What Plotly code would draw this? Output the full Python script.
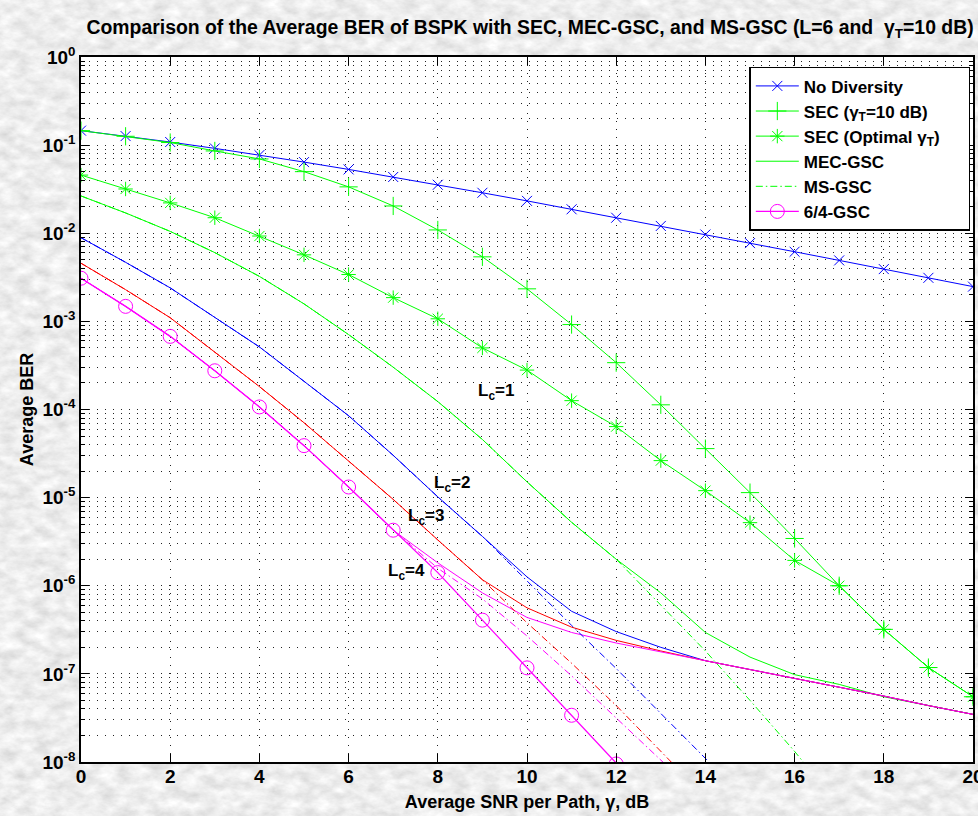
import base64
import plotly.graph_objects as go

# ---------------- data ----------------
snr_db = list(range(21))

ber_no_diversity = [0.146, 0.1267, 0.1085, 0.0919, 0.0771, 0.0642, 0.0530, 0.0435, 0.0355, 0.0288,
                    0.0233, 0.0187, 0.0150, 0.0121, 0.00967, 0.00773, 0.00617, 0.00492, 0.00392,
                    0.00312, 0.00248]

ber_sec_10db = [0.146, 0.126, 0.107, 0.0859, 0.0697, 0.050, 0.0336, 0.0204, 0.0109, 0.0054,
                0.00234, 0.00092, 3.4e-4, 1.13e-4, 3.6e-5, 1.14e-5, 3.44e-6, 1.0e-6, 3.2e-7,
                1.18e-7, 5.5e-8]

ber_sec_opt = [0.0457, 0.0318, 0.0221, 0.0150, 0.0093, 0.00569, 0.0034, 0.00186, 0.00107, 0.00050,
               0.00028, 1.26e-4, 6.4e-5, 2.63e-5, 1.2e-5, 5.2e-6, 1.94e-6, 1.0e-6, 3.2e-7,
               1.18e-7, 5.5e-8]

# MEC-GSC, Lc = 1..4 (solid)
ber_mec_lc1 = [0.0265, 0.0170, 0.0105, 0.00603, 0.00324, 0.00158, 7.08e-4, 3.02e-4, 1.23e-4, 4.57e-5,
               1.51e-5, 5.25e-6, 2.0e-6, 8.3e-7, 2.95e-7, 1.55e-7, 9.8e-8, 7.6e-8, 5.5e-8,
               4.37e-8, 3.47e-8]
ber_mec_lc2 = [8.9e-3, 4.68e-3, 2.40e-3, 1.12e-3, 5.13e-4, 2.09e-4, 8.5e-5, 3.02e-5, 1.02e-5, 3.63e-6,
               1.26e-6, 5.13e-7, 3.02e-7, 2.0e-7, 1.41e-7, 1.12e-7, 8.9e-8, 7.1e-8, 5.6e-8,
               4.37e-8, 3.47e-8]
ber_mec_lc3 = [4.57e-3, 2.29e-3, 1.10e-3, 4.47e-4, 1.82e-4, 7.08e-5, 2.63e-5, 9.55e-6, 3.31e-6, 1.17e-6,
               5.62e-7, 3.39e-7, 2.4e-7, 1.82e-7, 1.41e-7, 1.12e-7, 8.9e-8, 7.1e-8, 5.6e-8,
               4.37e-8, 3.47e-8]
ber_mec_lc4 = [3.09e-3, 1.48e-3, 6.76e-4, 2.75e-4, 1.07e-4, 3.89e-5, 1.32e-5, 4.27e-6, 1.82e-6, 8.3e-7,
               4.37e-7, 2.95e-7, 2.24e-7, 1.78e-7, 1.41e-7, 1.12e-7, 8.9e-8, 7.1e-8, 5.6e-8,
               4.37e-8, 3.47e-8]

# MS-GSC, Lc = 1..4 (dash-dot)
snr_ms_lc1 = list(range(18))
ber_ms_lc1 = [0.0265, 0.0170, 0.0105, 0.00603, 0.00324, 0.00158, 7.08e-4, 3.02e-4, 1.23e-4, 4.57e-5,
              1.51e-5, 5.25e-6, 2.0e-6, 6.0e-7, 1.82e-7, 5.0e-8, 1.32e-8, 3.2e-9]
snr_ms_lc2 = list(range(16))
ber_ms_lc2 = [8.9e-3, 4.68e-3, 2.40e-3, 1.12e-3, 5.13e-4, 2.09e-4, 8.5e-5, 3.02e-5, 1.02e-5, 3.63e-6,
              1.12e-6, 3.55e-7, 1.15e-7, 3.55e-8, 1.1e-8, 3.4e-9]
snr_ms_lc3 = list(range(15))
ber_ms_lc3 = [4.57e-3, 2.29e-3, 1.10e-3, 4.47e-4, 1.82e-4, 7.08e-5, 2.63e-5, 9.55e-6, 3.31e-6, 1.17e-6,
              3.8e-7, 1.32e-7, 4.37e-8, 1.32e-8, 4.0e-9]
snr_ms_lc4 = list(range(15))
ber_ms_lc4 = [3.09e-3, 1.48e-3, 6.76e-4, 2.75e-4, 1.07e-4, 3.89e-5, 1.32e-5, 4.27e-6, 1.58e-6, 7.1e-7,
              2.69e-7, 9.5e-8, 3.16e-8, 1.05e-8, 3.5e-9]

# 6/4-GSC
snr_gsc64 = list(range(14))
ber_gsc64 = [3.09e-3, 1.48e-3, 6.76e-4, 2.75e-4, 1.07e-4, 3.89e-5, 1.32e-5, 4.27e-6, 1.41e-6, 4.07e-7,
             1.17e-7, 3.39e-8, 9.5e-9, 2.8e-9]

y_tickvals = [1, 1e-1, 1e-2, 1e-3, 1e-4, 1e-5, 1e-6, 1e-7, 1e-8]
y_ticktext = ["10<sup>0</sup>", "10<sup>-1</sup>", "10<sup>-2</sup>", "10<sup>-3</sup>", "10<sup>-4</sup>",
              "10<sup>-5</sup>", "10<sup>-6</sup>", "10<sup>-7</sup>", "10<sup>-8</sup>"]
x_tickvals = [0, 2, 4, 6, 8, 10, 12, 14, 16, 18, 20]

# ---------------- styling ----------------
FONT = "Liberation Sans, Arial, Helvetica, sans-serif"
BLUE, GREEN, RED, MAG = "#0000ff", "#00ff00", "#ff0000", "#ff00ff"
DASHDOT = "7px,3px,1.5px,3px"
NBSP = "\u00a0"

fig = go.Figure()


def add(x, y, color, name, legend, dash="solid", symbol=None, size=10, width=1):
    mode = "lines+markers" if symbol else "lines"
    kw = dict(x=x, y=y, mode=mode, name=name, showlegend=legend,
              line=dict(color=color, width=width, dash=dash))
    if symbol:
        kw["marker"] = dict(symbol=symbol, size=size, color=color,
                            line=dict(color=color, width=1))
    fig.add_trace(go.Scatter(**kw))


add(snr_db, ber_no_diversity, BLUE, "No Diversity", True, symbol="x-thin-open", size=10)
add(snr_db, ber_sec_10db, GREEN, "SEC (γ<sub>T</sub>=10 dB)", True, symbol="cross-thin-open", size=13)
add(snr_db, ber_sec_opt, GREEN, "SEC (Optimal γ<sub>T</sub>)" + NBSP * 5, True, symbol="asterisk-open", size=12)
add(snr_db, ber_mec_lc1, GREEN, "MEC-GSC", True)
add(snr_ms_lc1, ber_ms_lc1, GREEN, "MS-GSC", True, dash=DASHDOT)
add(snr_gsc64, ber_gsc64, MAG, "6/4-GSC", True, symbol="circle-open", size=14, width=1.3)
add(snr_db, ber_mec_lc2, BLUE, "MEC-GSC Lc=2", False)
add(snr_db, ber_mec_lc3, RED, "MEC-GSC Lc=3", False)
add(snr_db, ber_mec_lc4, MAG, "MEC-GSC Lc=4", False)
add(snr_ms_lc2, ber_ms_lc2, BLUE, "MS-GSC Lc=2", False, dash=DASHDOT)
add(snr_ms_lc3, ber_ms_lc3, RED, "MS-GSC Lc=3", False, dash=DASHDOT)
add(snr_ms_lc4, ber_ms_lc4, MAG, "MS-GSC Lc=4", False, dash=DASHDOT)

labels = [("L<sub>c</sub>=1", 9.3, -3.80), ("L<sub>c</sub>=2", 8.32, -4.85),
          ("L<sub>c</sub>=3", 7.73, -5.22), ("L<sub>c</sub>=4", 7.29, -5.84)]
for txt, lx, ly in labels:
    fig.add_annotation(x=lx, y=ly, xref="x", yref="y", text=txt, showarrow=False,
                       font=dict(family=FONT, size=17, color="black", weight="bold"))

# marble-like grey paper texture (deterministic SVG noise filter) + white plot area
texture_svg = (
    '<svg xmlns="http://www.w3.org/2000/svg" width="978" height="816" viewBox="0 0 978 816">'
    '<filter id="f" x="0" y="0" width="100%" height="100%">'
    '<feTurbulence type="fractalNoise" baseFrequency="0.06 0.1" numOctaves="4" seed="7"/>'
    '<feColorMatrix type="matrix" values="0.42 0 0 0 0.64  0.42 0 0 0 0.64  0.42 0 0 0 0.64  0 0 0 0 1"/>'
    '</filter><rect width="978" height="816" filter="url(#f)"/></svg>'
)
texture_uri = "data:image/svg+xml;base64," + base64.b64encode(texture_svg.encode()).decode()
fig.add_layout_image(source=texture_uri, xref="paper", yref="paper",
                     x=-81 / 892, y=1 + 57 / 705, sizex=978 / 892, sizey=816 / 705,
                     xanchor="left", yanchor="top", sizing="stretch", layer="below", opacity=1)
fig.add_shape(type="rect", xref="paper", yref="paper", x0=0, x1=1, y0=0, y1=1,
              fillcolor="white", line=dict(width=0), layer="below")

grid_dash = "1px,7px"
fig.update_xaxes(range=[0, 20], tickvals=x_tickvals, ticks="inside", ticklen=8, tickcolor="black",
                 showline=True, linecolor="black", linewidth=1.5, mirror="ticks",
                 showgrid=True, gridcolor="#222", gridwidth=1, griddash=grid_dash,
                 zeroline=False, ticklabeloverflow="allow", automargin=False,
                 ticklabelstandoff=-4,
                 tickfont=dict(family=FONT, size=19, color="black", weight="bold"),
                 title=dict(text="Average SNR per Path, γ, dB", standoff=10,
                            font=dict(family=FONT, size=18, color="black", weight="bold")))
fig.update_yaxes(type="log", range=[-8, 0], tickvals=y_tickvals, ticktext=y_ticktext,
                 ticks="inside", ticklen=8, tickcolor="black",
                 showline=True, linecolor="black", linewidth=1.5, mirror="ticks",
                 showgrid=True, gridcolor="#222", gridwidth=1, griddash=grid_dash,
                 zeroline=False, ticklabeloverflow="allow", automargin=False,
                 minor=dict(dtick="D1", ticks="inside", ticklen=4, tickcolor="black",
                            showgrid=True, gridcolor="#222", gridwidth=1, griddash=grid_dash),
                 tickfont=dict(family=FONT, size=19, color="black", weight="bold"),
                 title=dict(text="Average BER", standoff=4,
                            font=dict(family=FONT, size=18, color="black", weight="bold")))

fig.update_layout(
    width=978, height=816,
    margin=dict(l=81, r=5, t=57, b=54),
    paper_bgcolor="#d7d7d7", plot_bgcolor="white",
    title=dict(text="Comparison of the Average BER of BSPK with SEC, MEC-GSC, and MS-GSC (L=6 and  γ<sub>T</sub>=10 dB)",
               x=0.542, xanchor="center", y=0.967, yanchor="middle",
               font=dict(family=FONT, size=19.4, color="black", weight="bold")),
    legend=dict(x=0.997, y=0.986, xanchor="right", yanchor="top",
                bgcolor="white", bordercolor="black", borderwidth=1.5,
                itemwidth=43, tracegroupgap=0,
                font=dict(family=FONT, size=17, color="black", weight="bold")),
)

fig.write_html("out.html", config={"displayModeBar": False},
               post_script="document.body.style.margin='0';document.body.style.overflow='hidden';")
